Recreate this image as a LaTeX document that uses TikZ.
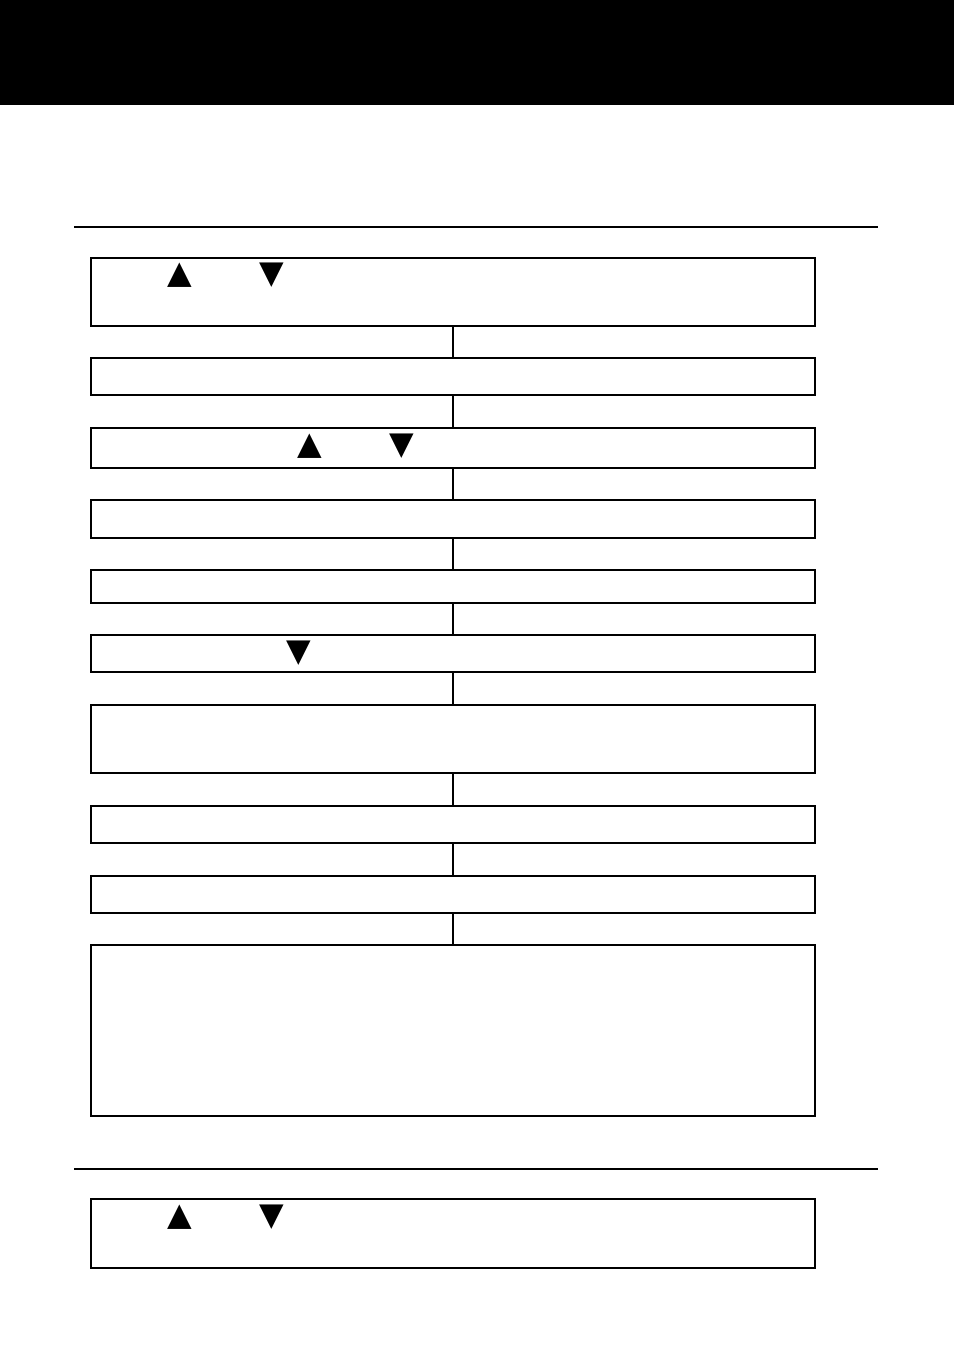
\documentclass[tikz,border=0pt]{standalone}
\usepackage{fontspec}
\newfontfamily\symfont{DejaVu Sans}
\begin{document}
\begin{tikzpicture}[x=1pt,y=-1pt,
  flowbox/.style={draw,line width=1.5pt,inner sep=0pt,minimum width=724pt,outer sep=0pt},
  conn/.style={line width=1.2pt},
  rule/.style={line width=1.3pt},
  tri/.style={inner sep=0pt,font=\symfont\fontsize{32}{32}\selectfont,anchor=center}]
\useasboundingbox (0,0) rectangle (954,1352);
\fill[black] (0,0) rectangle (954,105);
\coordinate (r1a) at (74,227); \coordinate (r1b) at (878,227);
\coordinate (r2a) at (74,1169); \coordinate (r2b) at (878,1169);
\draw[rule] (r1a) -- (r1b);
\draw[rule] (r2a) -- (r2b);
\foreach \name/\t/\b in {b1/258/326,b2/358/395,b3/428/468,b4/500/538,b5/570/603,b6/635/672,b7/705/773,b8/806/843,b9/876/913,b10/945/1116,bb/1199/1268}{
  \node[flowbox,minimum height={(\b-\t)*1pt}] (\name) at (453,{(\t+\b)/2}) {};
  \draw[line width=2.5pt] ([yshift=0.75pt]\name.north east) -- ([yshift=-0.75pt]\name.south east);
}
\foreach \a/\b in {b1/b2,b2/b3,b3/b4,b4/b5,b5/b6,b6/b7,b7/b8,b8/b9,b9/b10}{
  \draw[conn] (\a.south) -- (\b.north);
}
\node[tri] (t1) at (180,275) {▲};
\node[tri] (t2) at (272,275) {▼};
\node[tri] (t3) at (310,446) {▲};
\node[tri] (t4) at (402,446) {▼};
\node[tri] (t5) at (299,653) {▼};
\node[tri] (t6) at (180,1217) {▲};
\node[tri] (t7) at (272,1217) {▼};
\end{tikzpicture}
\end{document}
